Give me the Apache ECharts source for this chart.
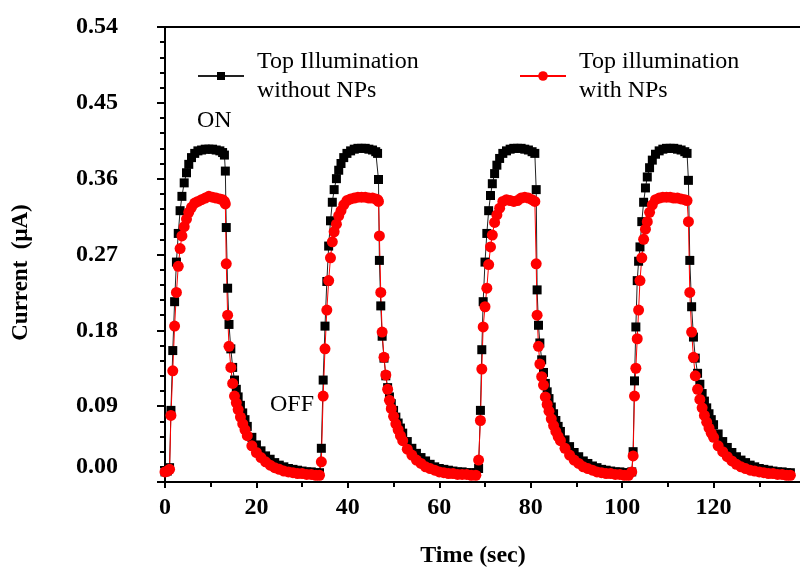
<!DOCTYPE html>
<html>
<head>
<meta charset="utf-8">
<script src="https://cdn.jsdelivr.net/npm/echarts@6/dist/echarts.min.js"></script>
<style>
    html, body { margin: 0; padding: 0; background: #fff; }
    #main { width: 800px; height: 569px; }
</style>
</head>
<body>
<div id="main"></div>
<script>
// time (sec), one row per light pulse
var timeSec = [
    0.0, 0.5, 1.0, 1.3, 1.7, 2.1, 2.5, 2.9, 3.3, 3.7, 4.2, 4.7, 5.2, 5.8, 6.5, 7.2, 8.0, 8.8, 9.6, 10.4, 11.2, 12.0, 12.6, 13.0, 13.2, 13.4, 13.7, 14.0, 14.4, 14.8, 15.2, 15.6, 16.0, 16.5, 17.0, 17.5, 18.0, 19.0, 20.0, 21.0, 22.0, 23.0, 24.0, 25.0, 26.0, 27.0, 28.0, 29.0, 30.0, 31.0, 32.0, 33.0, 33.8,
    34.2, 34.6, 35.0, 35.4, 35.8, 36.2, 36.6, 37.0, 37.5, 38.0, 38.5, 39.1, 39.8, 40.6, 41.4, 42.2, 43.0, 43.8, 44.6, 45.4, 46.1, 46.5, 46.7, 46.9, 47.2, 47.5, 47.9, 48.3, 48.7, 49.1, 49.5, 50.0, 50.5, 51.0, 51.5, 52.0, 53.0, 54.0, 55.0, 56.0, 57.0, 58.0, 59.0, 60.0, 61.0, 62.0, 63.0, 64.0, 65.0, 66.0, 67.0, 68.0,
    68.6, 69.0, 69.3, 69.6, 70.0, 70.4, 70.8, 71.2, 71.6, 72.1, 72.6, 73.2, 73.9, 74.7, 75.5, 76.3, 77.1, 77.9, 78.7, 79.5, 80.3, 80.9, 81.2, 81.4, 81.7, 82.0, 82.4, 82.8, 83.2, 83.6, 84.0, 84.5, 85.0, 85.5, 86.0, 86.5, 87.5, 88.5, 89.5, 90.5, 91.5, 92.5, 93.5, 94.5, 95.5, 96.5, 97.5, 98.5, 99.5, 100.5, 101.4,
    102.1, 102.4, 102.7, 103.0, 103.3, 103.6, 103.9, 104.3, 104.7, 105.1, 105.5, 106.0, 106.6, 107.3, 108.1, 108.9, 109.7, 110.5, 111.3, 112.1, 112.9, 113.7, 114.2, 114.5, 114.8, 115.2, 115.6, 116.0, 116.5, 117.0, 117.5, 118.0, 118.5, 119.0, 119.5, 120.0, 121.0, 122.0, 123.0, 124.0, 125.0, 126.0, 127.0, 128.0, 129.0, 130.0, 131.0, 132.0, 133.0, 134.0, 135.0, 136.0, 136.8
];
// Top Illumination without NPs (µA)
var currentNoNP = [
    0.012, 0.013, 0.017, 0.085, 0.156, 0.214, 0.261, 0.295, 0.322, 0.339, 0.355, 0.367, 0.377, 0.385, 0.390, 0.393, 0.394, 0.395, 0.395, 0.395, 0.394, 0.393, 0.391, 0.388, 0.369, 0.302, 0.230, 0.187, 0.158, 0.136, 0.121, 0.110, 0.101, 0.091, 0.082, 0.074, 0.066, 0.053, 0.044, 0.037, 0.031, 0.027, 0.023, 0.020, 0.018, 0.016, 0.015, 0.014, 0.013, 0.012, 0.012, 0.011, 0.011,
    0.040, 0.121, 0.185, 0.238, 0.280, 0.310, 0.332, 0.347, 0.360, 0.370, 0.378, 0.385, 0.390, 0.393, 0.395, 0.396, 0.396, 0.396, 0.395, 0.394, 0.392, 0.390, 0.359, 0.263, 0.209, 0.173, 0.147, 0.126, 0.112, 0.101, 0.093, 0.085, 0.077, 0.070, 0.064, 0.058, 0.048, 0.040, 0.034, 0.029, 0.025, 0.021, 0.018, 0.016, 0.015, 0.014, 0.013, 0.012, 0.012, 0.011, 0.011, 0.011,
    0.016, 0.085, 0.157, 0.214, 0.261, 0.295, 0.322, 0.340, 0.354, 0.366, 0.376, 0.384, 0.390, 0.393, 0.395, 0.396, 0.396, 0.396, 0.395, 0.394, 0.392, 0.390, 0.347, 0.228, 0.186, 0.165, 0.145, 0.130, 0.117, 0.107, 0.099, 0.089, 0.081, 0.073, 0.066, 0.060, 0.050, 0.042, 0.035, 0.030, 0.025, 0.022, 0.019, 0.017, 0.015, 0.014, 0.013, 0.012, 0.012, 0.011, 0.011,
    0.012, 0.036, 0.120, 0.184, 0.239, 0.262, 0.279, 0.309, 0.332, 0.349, 0.362, 0.373, 0.382, 0.389, 0.393, 0.395, 0.396, 0.396, 0.396, 0.395, 0.394, 0.392, 0.390, 0.358, 0.263, 0.208, 0.172, 0.147, 0.129, 0.116, 0.105, 0.096, 0.088, 0.081, 0.074, 0.068, 0.057, 0.048, 0.041, 0.035, 0.030, 0.026, 0.023, 0.020, 0.018, 0.016, 0.015, 0.014, 0.013, 0.012, 0.012, 0.011, 0.011
];
// Top illumination with NPs (µA)
var currentNP = [
    0.012, 0.013, 0.015, 0.079, 0.132, 0.185, 0.225, 0.256, 0.277, 0.292, 0.303, 0.312, 0.320, 0.326, 0.331, 0.333, 0.335, 0.337, 0.339, 0.338, 0.337, 0.336, 0.335, 0.333, 0.330, 0.259, 0.198, 0.161, 0.136, 0.117, 0.102, 0.094, 0.086, 0.077, 0.069, 0.062, 0.055, 0.043, 0.035, 0.029, 0.024, 0.020, 0.017, 0.015, 0.013, 0.012, 0.011, 0.010, 0.010, 0.009, 0.009, 0.008, 0.008,
    0.024, 0.102, 0.158, 0.204, 0.239, 0.266, 0.285, 0.297, 0.306, 0.316, 0.322, 0.329, 0.334, 0.336, 0.337, 0.338, 0.338, 0.338, 0.337, 0.337, 0.336, 0.335, 0.333, 0.292, 0.225, 0.178, 0.148, 0.127, 0.110, 0.097, 0.087, 0.078, 0.069, 0.062, 0.055, 0.049, 0.039, 0.032, 0.026, 0.022, 0.018, 0.016, 0.014, 0.012, 0.011, 0.010, 0.010, 0.009, 0.009, 0.009, 0.008, 0.008,
    0.026, 0.073, 0.134, 0.184, 0.208, 0.230, 0.258, 0.279, 0.293, 0.308, 0.317, 0.325, 0.333, 0.335, 0.334, 0.333, 0.334, 0.337, 0.338, 0.337, 0.335, 0.333, 0.259, 0.198, 0.161, 0.140, 0.125, 0.115, 0.101, 0.092, 0.084, 0.075, 0.067, 0.060, 0.054, 0.049, 0.040, 0.032, 0.026, 0.022, 0.018, 0.016, 0.014, 0.012, 0.011, 0.010, 0.010, 0.009, 0.009, 0.008, 0.008,
    0.012, 0.031, 0.102, 0.135, 0.170, 0.204, 0.239, 0.266, 0.288, 0.300, 0.309, 0.320, 0.329, 0.335, 0.337, 0.338, 0.338, 0.338, 0.337, 0.337, 0.336, 0.335, 0.334, 0.309, 0.225, 0.178, 0.148, 0.126, 0.110, 0.098, 0.088, 0.079, 0.071, 0.064, 0.058, 0.053, 0.043, 0.036, 0.030, 0.025, 0.021, 0.018, 0.016, 0.014, 0.013, 0.012, 0.011, 0.010, 0.010, 0.009, 0.009, 0.008, 0.008
];
var seriesNames = ['Top Illumination\nwithout NPs', 'Top illumination\nwith NPs'];

function pairs(ys) {
    var out = [];
    for (var i = 0; i < timeSec.length; i++) {
        out.push([timeSec[i], ys[i]]);
    }
    return out;
}

var serif = '"Liberation Serif", "Times New Roman", serif';
var chart = echarts.init(document.getElementById('main'));
var legendText = {
    color: '#000',
    fontFamily: serif,
    fontSize: 24,
    lineHeight: 29,
    padding: [0, 0, 0, 8]
};
var option = {
    animation: false,
    backgroundColor: '#fff',
    grid: {
        left: 165,
        top: 27,
        width: 640,
        height: 455,
        show: true,
        borderColor: '#000',
        borderWidth: 2,
        outerBoundsMode: 'none'
    },
    legend: [
        {
            data: [seriesNames[0]],
            left: 192,
            top: 42,
            itemWidth: 46,
            itemHeight: 10,
            textStyle: legendText
        },
        {
            data: [seriesNames[1]],
            left: 514,
            top: 42,
            itemWidth: 46,
            itemHeight: 12,
            textStyle: legendText
        }
    ],
    xAxis: {
        type: 'value',
        min: 0,
        max: 140,
        interval: 20,
        name: 'Time (sec)',
        nameLocation: 'middle',
        nameGap: 62,
        nameTextStyle: {
            color: '#000',
            fontFamily: serif,
            fontWeight: 'bold',
            fontSize: 24,
            padding: [0, 24, 0, 0]
        },
        axisLine: {lineStyle: {color: '#000', width: 2}},
        axisTick: {inside: false, length: 6, lineStyle: {color: '#000', width: 2}},
        minorTick: {show: true, splitNumber: 2, length: 5, lineStyle: {color: '#000', width: 2}},
        splitLine: {show: false},
        axisLabel: {
            color: '#000',
            fontFamily: serif,
            fontWeight: 'bold',
            fontSize: 24,
            margin: 14,
            showMaxLabel: false
        }
    },
    yAxis: {
        type: 'value',
        min: 0,
        max: 0.54,
        interval: 0.09,
        name: 'Current  (\u03bcA)',
        nameLocation: 'middle',
        nameGap: 132,
        nameRotate: 90,
        nameTextStyle: {
            color: '#000',
            fontFamily: serif,
            fontWeight: 'bold',
            fontSize: 23,
            padding: [0, 36, 0, 0]
        },
        axisLine: {lineStyle: {color: '#000', width: 2}},
        axisTick: {inside: false, length: 8, lineStyle: {color: '#000', width: 2}},
        minorTick: {show: true, splitNumber: 5, length: 5, lineStyle: {color: '#000', width: 2}},
        splitLine: {show: false},
        axisLabel: {
            color: '#000',
            fontFamily: serif,
            fontWeight: 'bold',
            fontSize: 24,
            margin: 47,
            formatter: function (v) {
                // the 0.00 label sits a little higher in the original
                if (Math.abs(v) < 1e-9) {
                    return '{z|0.00}';
                }
                return v.toFixed(2);
            },
            rich: {
                z: {
                    color: '#000',
                    fontFamily: serif,
                    fontWeight: 'bold',
                    fontSize: 24,
                    padding: [0, 0, 30, 0]
                }
            }
        }
    },
    graphic: [
        {
            type: 'text',
            left: 197,
            top: 109,
            style: {text: 'ON', fill: '#000', font: '24px ' + serif}
        },
        {
            type: 'text',
            left: 270,
            top: 393,
            style: {text: 'OFF', fill: '#000', font: '24px ' + serif}
        }
    ],
    series: [
        {
            name: seriesNames[0],
            type: 'line',
            data: pairs(currentNoNP),
            symbol: 'rect',
            symbolSize: 9,
            itemStyle: {color: '#000'},
            lineStyle: {color: '#222', width: 1},
            emphasis: {disabled: true}
        },
        {
            name: seriesNames[1],
            type: 'line',
            data: pairs(currentNP),
            symbol: 'circle',
            symbolSize: 11,
            itemStyle: {color: '#ff0000'},
            lineStyle: {color: '#ff0000', width: 1},
            emphasis: {disabled: true}
        }
    ]
};
chart.setOption(option);
</script>
</body>
</html>
